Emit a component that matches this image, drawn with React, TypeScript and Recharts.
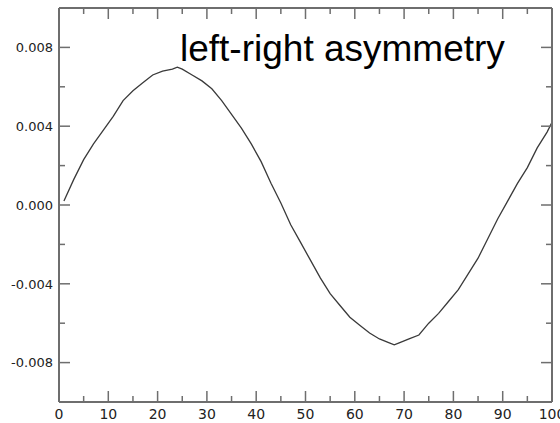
import React from "react";
import { LineChart, Line, XAxis, YAxis } from "recharts";

const xValues = [1, 3, 5, 7, 9, 11, 13, 15, 17, 19, 21, 23, 24, 25, 27, 29, 31, 33, 35, 37, 39, 41, 43, 45, 47, 49, 51, 53, 55, 57, 59, 61, 63, 65, 67, 68, 69, 71, 73, 75, 77, 79, 81, 83, 85, 87, 89, 91, 93, 95, 97, 99, 100];
const yValues = [0.0002, 0.0013, 0.0023, 0.0031, 0.0038, 0.0045, 0.0053, 0.0058, 0.0062, 0.0066, 0.0068, 0.0069, 0.0070, 0.0069, 0.0066, 0.0063, 0.0059, 0.0053, 0.0046, 0.0039, 0.0031, 0.0022, 0.0011, 0.0001, -0.0010, -0.0019, -0.0028, -0.0037, -0.0045, -0.0051, -0.0057, -0.0061, -0.0065, -0.0068, -0.0070, -0.0071, -0.0070, -0.0068, -0.0066, -0.0060, -0.0055, -0.0049, -0.0043, -0.0035, -0.0027, -0.0017, -0.0007, 0.0002, 0.0011, 0.0019, 0.0029, 0.0037, 0.0042];

const xTicks = [0, 5, 10, 15, 20, 25, 30, 35, 40, 45, 50, 55, 60, 65, 70, 75, 80, 85, 90, 95, 100];
const yTicks = [-0.008, -0.006, -0.004, -0.002, 0, 0.002, 0.004, 0.006, 0.008];
const title = "left-right asymmetry";

const data = xValues.map((x, i) => ({ x, y: yValues[i] }));

const AXIS = "#6e6e6e";
const LABEL = "#222";
const TICK_FONT = "'DejaVu Sans', sans-serif";
const TITLE_FONT = "'Liberation Sans', Arial, sans-serif";

const isMajorX = (v: number) => Math.round(v) % 10 === 0;
const isMajorY = (v: number) => Math.abs(Math.round(v * 1000)) % 4 === 0;

const XTick = (side: "bottom" | "top") => (props: any) => {
  const { x, y, payload } = props;
  const v = payload.value;
  const len = isMajorX(v) ? 11 : 6;
  const dir = side === "bottom" ? -1 : 1;
  return (
    <g>
      <line x1={x} y1={y} x2={x} y2={y + dir * len} stroke={AXIS} strokeWidth={1.5} />
      {side === "bottom" && isMajorX(v) ? (
        <text x={x} y={y + 17} textAnchor="middle" fontSize={14} fill={LABEL} fontFamily={TICK_FONT}>
          {String(v)}
        </text>
      ) : null}
    </g>
  );
};

const YTick = (side: "left" | "right") => (props: any) => {
  const { x, y, payload } = props;
  const v = payload.value;
  const len = isMajorY(v) ? 11 : 6;
  const dir = side === "left" ? 1 : -1;
  return (
    <g>
      <line x1={x} y1={y} x2={x + dir * len} y2={y} stroke={AXIS} strokeWidth={1.5} />
      {side === "left" && isMajorY(v) ? (
        <text x={x - 6} y={y + 4.7} textAnchor="end" fontSize={13} fill={LABEL} fontFamily={TICK_FONT}>
          {Number(v).toFixed(3)}
        </text>
      ) : null}
    </g>
  );
};

export default function App() {
  return (
    <div style={{ position: "absolute", left: 0, top: 0, width: 560, height: 423, background: "#fff" }}>
      <LineChart width={560} height={423} data={data} margin={{ top: 0, right: 0, bottom: 0, left: 0 }}>
        <XAxis
          xAxisId="bottom"
          dataKey="x"
          type="number"
          domain={[0, 100]}
          ticks={xTicks}
          interval={0}
          allowDataOverflow
          orientation="bottom"
          height={21}
          tickSize={0}
          tickMargin={0}
          tickLine={false}
          axisLine={{ stroke: AXIS, strokeWidth: 2 }}
          tick={XTick("bottom")}
        />
        <XAxis
          xAxisId="top"
          dataKey="x"
          type="number"
          domain={[0, 100]}
          ticks={xTicks}
          interval={0}
          allowDataOverflow
          orientation="top"
          height={8}
          tickSize={0}
          tickMargin={0}
          tickLine={false}
          axisLine={{ stroke: AXIS, strokeWidth: 2 }}
          tick={XTick("top")}
        />
        <YAxis
          yAxisId="left"
          type="number"
          domain={[-0.01, 0.01]}
          ticks={yTicks}
          interval={0}
          allowDataOverflow
          orientation="left"
          width={59}
          tickSize={0}
          tickMargin={0}
          tickLine={false}
          axisLine={{ stroke: AXIS, strokeWidth: 2 }}
          tick={YTick("left")}
        />
        <YAxis
          yAxisId="right"
          type="number"
          domain={[-0.01, 0.01]}
          ticks={yTicks}
          interval={0}
          allowDataOverflow
          orientation="right"
          width={8}
          tickSize={0}
          tickMargin={0}
          tickLine={false}
          axisLine={{ stroke: AXIS, strokeWidth: 2 }}
          tick={YTick("right")}
        />
        <Line
          xAxisId="bottom"
          yAxisId="left"
          dataKey="y"
          type="linear"
          stroke="#3a3a3a"
          strokeWidth={1.3}
          dot={false}
          isAnimationActive={false}
        />
      </LineChart>
      <svg width={560} height={423} style={{ position: "absolute", left: 0, top: 0, pointerEvents: "none" }}>
        <text x={180} y={61} fontSize={37} fill="#000" fontFamily={TITLE_FONT}>
          {title}
        </text>
      </svg>
    </div>
  );
}
